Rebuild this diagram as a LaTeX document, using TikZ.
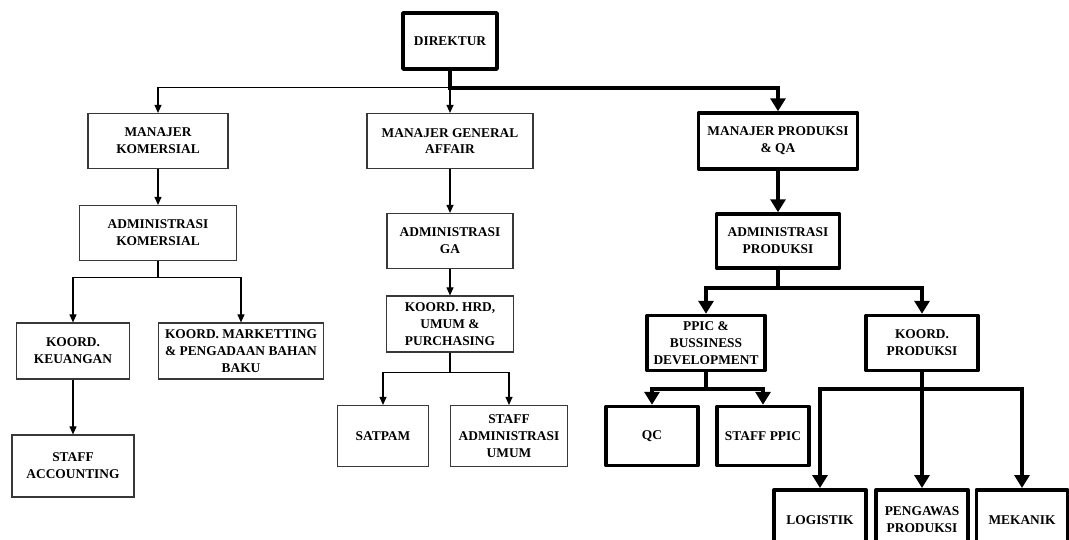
\documentclass[tikz,border=0pt]{standalone}
\usepackage{fontspec}
\setmainfont{Liberation Serif}
\usetikzlibrary{arrows.meta}
\definecolor{unitgrey}{rgb}{0.22, 0.22, 0.22}
\tikzset{unit/.style={draw=unitgrey, line width=1.2pt, fill=white, align=center, inner sep=2pt, font=\fontsize{13.4}{16.8}\selectfont\bfseries}}
\tikzset{bunit/.style={unit, draw=black, line width=3.5pt, line join=round}}
\tikzset{edge/.style={line width=1.1pt, color=black, -{Triangle[width=7pt, length=8pt]}}}
\tikzset{bedge/.style={line width=4pt, color=black, -{Triangle[width=15pt, length=13pt]}}}

\begin{document}
\begin{tikzpicture}[x=1pt, y=-1pt]%{{{
        \useasboundingbox (0, 0) rectangle (1069, 539);
        \clip (0, 0) rectangle (1069, 539);

        \node[bunit, minimum width=94pt, minimum height=56pt] (Dir) at (450, 41) {DIREKTUR};

        % komersial
        \node[unit, minimum width=140pt, minimum height=55pt] (MK) at (158, 141) {MANAJER\\KOMERSIAL};
        \node[unit, minimum width=157pt, minimum height=55pt] (AK) at (158, 233) {ADMINISTRASI\\KOMERSIAL};
        \node[unit, minimum width=113pt, minimum height=56pt] (KK) at (73, 351) {KOORD.\\KEUANGAN};
        \node[unit, minimum width=165pt, minimum height=56pt] (KM) at (241, 351) {KOORD. MARKETTING\\\& PENGADAAN BAHAN\\BAKU};
        \node[unit, minimum width=122pt, minimum height=62pt] (SA) at (73, 466) {STAFF\\ACCOUNTING};

        % general affair
        \node[unit, minimum width=166pt, minimum height=55pt] (MGA) at (450, 141) {MANAJER GENERAL\\AFFAIR};
        \node[unit, minimum width=126pt, minimum height=55pt] (AGA) at (450, 241) {ADMINISTRASI\\GA};
        \node[unit, minimum width=127pt, minimum height=56pt] (KH) at (450, 324) {KOORD. HRD,\\UMUM \&\\PURCHASING};
        \node[unit, minimum width=91pt, minimum height=61pt] (Sat) at (383, 436) {SATPAM};
        \node[unit, minimum width=117pt, minimum height=61pt] (SAU) at (509, 436) {STAFF\\ADMINISTRASI\\UMUM};

        % produksi
        \node[bunit, minimum width=159pt, minimum height=56pt] (MP) at (778, 141) {MANAJER PRODUKSI\\\& QA};
        \node[bunit, minimum width=123pt, minimum height=54pt] (AP) at (778, 241) {ADMINISTRASI\\PRODUKSI};
        \node[bunit, minimum width=118pt, minimum height=55pt] (PPIC) at (706, 343) {PPIC \&\\BUSSINESS\\DEVELOPMENT};
        \node[bunit, minimum width=112pt, minimum height=55pt] (KP) at (922, 343) {KOORD.\\PRODUKSI};
        \node[bunit, minimum width=92pt, minimum height=59pt] (QC) at (652, 436) {QC};
        \node[bunit, minimum width=92pt, minimum height=59pt] (SP) at (763, 436) {STAFF PPIC};
        \node[bunit, minimum width=92pt, minimum height=60pt, anchor=north] (Log) at (820, 488) {LOGISTIK};
        \node[bunit, minimum width=92pt, minimum height=60pt, anchor=north] (Peng) at (922, 488) {PENGAWAS\\PRODUKSI};
        \node[bunit, minimum width=91pt, minimum height=60pt, anchor=north] (Mek) at (1022, 488) {MEKANIK};

        \coordinate (J0) at ([yshift=-17pt]Dir.south);

        \draw [edge] (J0) -| (MK.north);
        \draw [edge] (J0) -- (MGA.north);
        \draw [bedge] (Dir.south) -- (J0) -| (MP.north);

        \draw [edge] (MK) -- (AK);
        \draw [edge] (AK.south) -- ++(0, 16) -| (KK.north);
        \draw [edge] (AK.south) -- ++(0, 16) -| (KM.north);
        \draw [edge] (KK) -- (SA);

        \draw [edge] (MGA) -- (AGA);
        \draw [edge] (AGA) -- (KH);
        \draw [edge] (KH.south) -- ++(0, 20) -| (Sat.north);
        \draw [edge] (KH.south) -- ++(0, 20) -| (SAU.north);

        \draw [bedge] (MP) -- (AP);
        \draw [bedge] (AP.south) -- ++(0, 18) -| (PPIC.north);
        \draw [bedge] (AP.south) -- ++(0, 18) -| (KP.north);
        \draw [bedge] (PPIC.south) -- ++(0, 17) -| (QC.north);
        \draw [bedge] (PPIC.south) -- ++(0, 17) -| (SP.north);
        \draw [bedge] (KP.south) -- ++(0, 17) -| (Log.north);
        \draw [bedge] (KP) -- (Peng);
        \draw [bedge] (KP.south) -- ++(0, 17) -| (Mek.north);
    \end{tikzpicture}%}}}
\end{document}
